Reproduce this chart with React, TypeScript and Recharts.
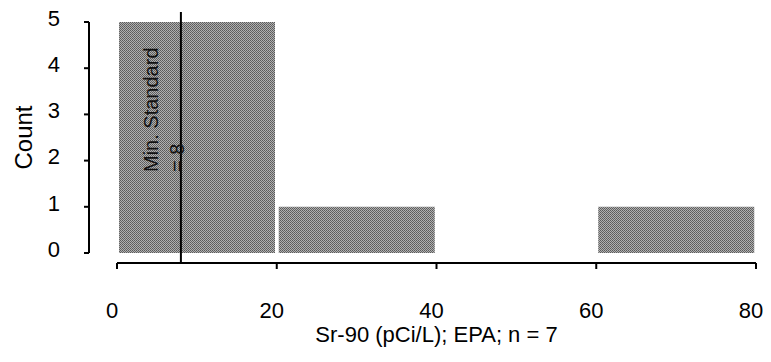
import { ComposedChart, Bar, XAxis, YAxis, ReferenceLine } from 'recharts'

// histogram bins (centres) and their counts
const binMids = [10, 30, 50, 70]
const counts = [5, 1, 0, 1]
const xTicks = [0, 20, 40, 60, 80]
const yTicks = [0, 1, 2, 3, 4, 5]
const minStandard = 8

const data = binMids.map((mid, i) => ({ mid, count: counts[i] }))

const FONT = '"Liberation Sans", Arial, Helvetica, sans-serif'

function CountLabel({ viewBox }: any) {
  const cx = viewBox.x + 32
  const cy = 137.5
  return (
    <text
      x={cx}
      y={cy}
      transform={`rotate(-90 ${cx} ${cy})`}
      textAnchor="middle"
      fontSize={24}
      fontFamily={FONT}
      fill="#000"
    >
      Count
    </text>
  )
}

function StandardLabel({ viewBox }: any) {
  const x = viewBox.x
  const y = viewBox.y + 150
  return (
    <g fontFamily={FONT} fontSize={20} fill="#111">
      <text x={x - 23} y={y} transform={`rotate(-90 ${x - 23} ${y})`} textAnchor="start">
        Min. Standard
      </text>
      <text x={x + 3} y={y} transform={`rotate(-90 ${x + 3} ${y})`} textAnchor="start">
        = 8
      </text>
    </g>
  )
}

function StandardLine(props: any) {
  const top = Math.min(props.y1, props.y2) - 10
  const bottom = Math.max(props.y1, props.y2) + 10
  return <line x1={props.x1} x2={props.x2} y1={top} y2={bottom} stroke="#000" strokeWidth={2} />
}

export default function App() {
  return (
    <div style={{ position: 'absolute', left: 0, top: 0, background: '#fff' }}>
      <ComposedChart
        width={771}
        height={362}
        data={data}
        margin={{ top: 22, right: 15, left: 0, bottom: 0 }}
      >
        <defs>
          <pattern id="dither" width="2" height="2" patternUnits="userSpaceOnUse">
            <rect width="2" height="2" fill="#b0b0b0" />
            <rect width="1" height="1" fill="#5a5a5a" />
            <rect x="1" y="1" width="1" height="1" fill="#666" />
          </pattern>
        </defs>

        {/* spacer axes push the visible axes away from the plot */}
        <XAxis xAxisId="gap" type="number" domain={[0, 1]} height={10} axisLine={false} tickLine={false} tick={false} />
        <YAxis yAxisId="gap" type="number" domain={[0, 1]} width={28} axisLine={false} tickLine={false} tick={false} />

        <XAxis
          xAxisId="main"
          dataKey="mid"
          type="number"
          domain={[0, 80]}
          ticks={xTicks}
          height={99}
          axisLine={{ stroke: '#000', strokeWidth: 2 }}
          tickLine={{ stroke: '#000', strokeWidth: 2 }}
          tickSize={6}
          tickMargin={33}
          tick={{ fontSize: 22, fill: '#000', fontFamily: FONT, dx: -5 }}
          label={{
            value: 'Sr-90 (pCi/L); EPA; n = 7',
            position: 'insideBottom',
            offset: 20,
            fontSize: 22,
            fill: '#000',
            fontFamily: FONT,
          }}
        />
        <YAxis
          yAxisId="main"
          type="number"
          domain={[0, 5]}
          ticks={yTicks}
          width={89}
          axisLine={{ stroke: '#000', strokeWidth: 2 }}
          tickLine={{ stroke: '#000', strokeWidth: 2 }}
          tickSize={5}
          tickMargin={24}
          tick={{ fontSize: 22, fill: '#000', fontFamily: FONT, dy: -4 }}
          label={CountLabel}
        />

        <Bar
          xAxisId="main"
          yAxisId="main"
          dataKey="count"
          barSize={156}
          fill="url(#dither)"
          isAnimationActive={false}
        />
        <ReferenceLine
          xAxisId="main"
          yAxisId="main"
          x={minStandard}
          shape={StandardLine}
          label={StandardLabel}
        />
      </ComposedChart>
    </div>
  )
}
